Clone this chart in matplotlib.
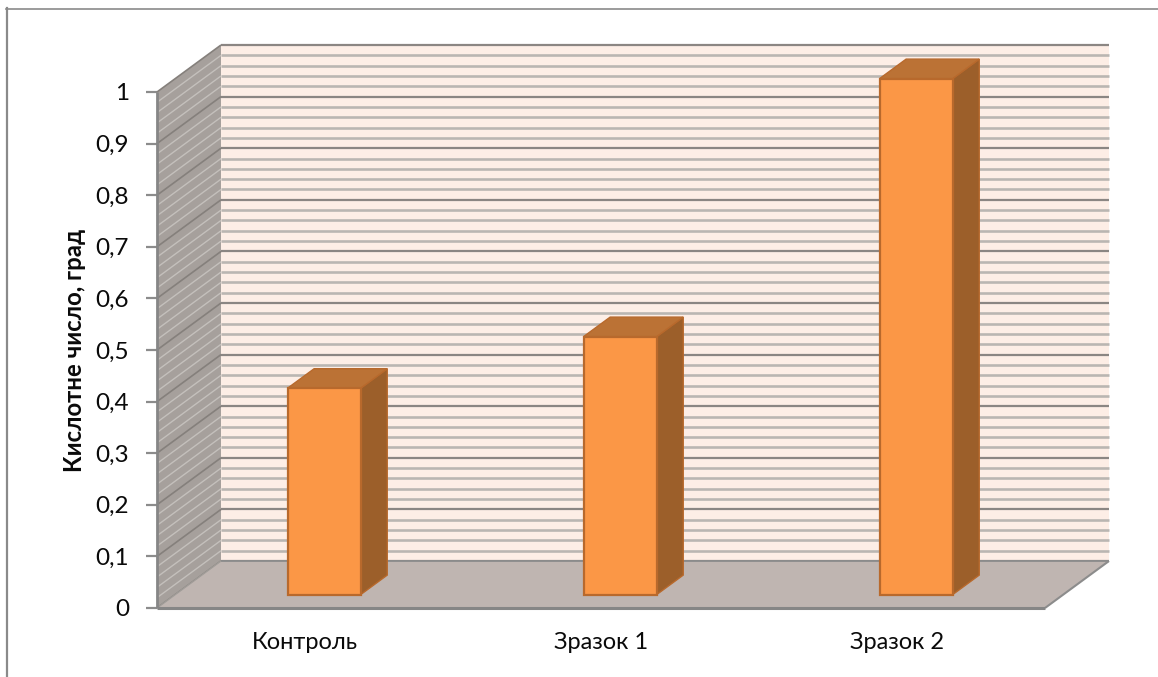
import matplotlib
matplotlib.use("Agg")
import matplotlib.pyplot as plt
from matplotlib.patches import Polygon

plt.rcParams['font.family'] = ['Lato', 'Open Sans', 'DejaVu Sans']

categories = ["Контроль", "Зразок 1", "Зразок 2"]
values = [0.4, 0.5, 1.0]
major_ticks = [0, 0.1, 0.2, 0.3, 0.4, 0.5, 0.6, 0.7, 0.8, 0.9, 1.0]
major_labels = ["0", "0,1", "0,2", "0,3", "0,4", "0,5", "0,6", "0,7", "0,8", "0,9", "1"]
minor_ticks = [i / 50 for i in range(51) if i % 5 != 0]
y_label = "Кислотне число, град"

W, H = 1158, 677
fig = plt.figure(figsize=(W / 100, H / 100), dpi=100, facecolor="white")

# Front plane of the 3-D box spans x 157..1045 px and y 608..92 px
ax = fig.add_axes([157 / W, 1 - 608 / H, (1045 - 157) / W, (608 - 92) / H])
ax.set_xlim(-0.5, 2.5)
ax.set_ylim(0, 1)
ax.patch.set_visible(False)
for s in ax.spines.values():
    s.set_visible(False)

# Oblique offset of the box depth, expressed in data units
DX = 64 / 296
DY = 47 / 516


def pt(x, v, d):
    """Project a category/value/depth triple on to the axes."""
    return (x + d * DX, v + d * DY)


def face(corners, **kw):
    ax.add_patch(Polygon([pt(*c) for c in corners], closed=True, clip_on=False, **kw))


def line(a, b, **kw):
    p, q = pt(*a), pt(*b)
    ax.plot([p[0], q[0]], [p[1], q[1]], clip_on=False, solid_capstyle="butt", **kw)


L, R = -0.5, 2.5
WALL, FLOOR, SIDE = "#fdeee6", "#bfb5b1", "#a6a09c"
GRID_MINOR, GRID_MAJOR = "#bab6b2", "#8b8683"

# Back wall, side wall and floor
face([(L, 0, 1), (R, 0, 1), (R, 1, 1), (L, 1, 1)], fc=WALL, ec="none", zorder=1)
face([(L, 0, 0), (L, 0, 1), (L, 1, 1), (L, 1, 0)], fc=SIDE, ec="none", zorder=1)

# Gridlines on both walls
for v in minor_ticks:
    line((L, v, 1), (R, v, 1), color=GRID_MINOR, lw=1.9, zorder=2)
    line((L, v, 0), (L, v, 1), color="#c4c0bc", lw=1.0, zorder=2)
for v in major_ticks:
    line((L, v, 1), (R, v, 1), color=GRID_MAJOR, lw=1.6, zorder=2)
    line((L, v, 0), (L, v, 1), color="#85807c", lw=1.2, zorder=2)

face([(L, 0, 0), (R, 0, 0), (R, 0, 1), (L, 0, 1)], fc=FLOOR, ec="none", zorder=3)
line((L, 0, 1), (R, 0, 1), color="#8c8c8c", lw=1.3, zorder=3)
line((R, 0, 0), (R, 0, 1), color="#8c8c8c", lw=1.5, zorder=3)
line((L, 0, 0), (L, 0, 1), color="#a09c98", lw=1.0, zorder=3)
line((L, 0, 0), (R, 0, 0), color="#868686", lw=2.2, zorder=4)
line((L, 0, 0), (L, 1, 0), color="#868686", lw=2.0, zorder=4)

# Bars: each one is a box standing part-way into the depth of the floor
BAR_W = 0.247
BAR_SHIFT = 0.003
D0, D1 = 0.285, 0.70
EDGE = "#b8692c"
for i, v in enumerate(values):
    x0, x1 = i + BAR_SHIFT - BAR_W / 2, i + BAR_SHIFT + BAR_W / 2
    face([(x1, 0, D0), (x1, 0, D1), (x1, v, D1), (x1, v, D0)],
         fc="#9c5f2a", ec=EDGE, lw=1.0, zorder=5)
    face([(x0, v, D0), (x1, v, D0), (x1, v, D1), (x0, v, D1)],
         fc="#bb7235", ec=EDGE, lw=1.0, zorder=5)
    face([(x0, 0, D0), (x1, 0, D0), (x1, v, D0), (x0, v, D0)],
         fc="#fb9746", ec=EDGE, lw=1.6, zorder=6)

# Axis ticks and labels
ax.set_yticks(major_ticks, major_labels)
ax.set_xticks(range(len(categories)), categories)
ax.tick_params(axis="y", length=8, width=1.6, color="#8c8c8c", pad=12,
               labelsize=17.5, labelcolor="#0a0a0a")
ax.tick_params(axis="x", length=0, pad=17.5, labelsize=17, labelcolor="#0a0a0a")
fig.text(74.5 / W, 1 - 350 / H, y_label, rotation=90, ha="center", va="center",
         fontsize=17.2, fontweight="bold", color="#0a0a0a")

# Chart-area border: only the top and left edges are visible
fig.add_artist(plt.Line2D([6.5 / W, 6.5 / W], [0, 1 - 8 / H], color="#8a8a8a", lw=1.6))
fig.add_artist(plt.Line2D([6 / W, 1], [1 - 8.5 / H, 1 - 8.5 / H], color="#8a8a8a", lw=1.2))

fig.savefig("out.png", dpi=100)
